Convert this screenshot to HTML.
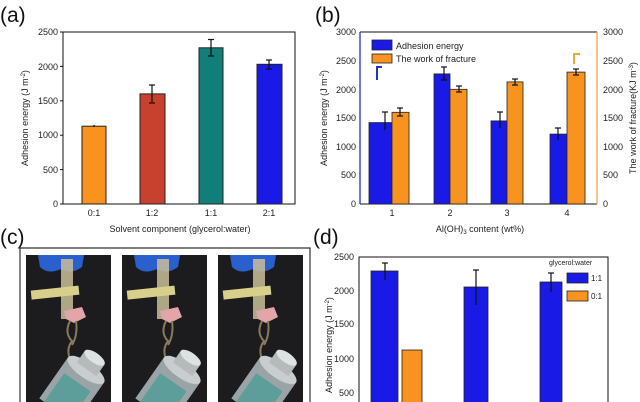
<!DOCTYPE html>
<html><head><meta charset="utf-8"><style>
html,body{margin:0;padding:0;background:#fff;width:640px;height:402px;overflow:hidden}
svg{display:block;font-family:"Liberation Sans",Arial,sans-serif;overflow:hidden}
</style></head><body>
<svg width="640" height="402" viewBox="0 0 640 402" xmlns="http://www.w3.org/2000/svg">
<defs>
<clipPath id="cl"><rect x="0" y="0" width="640" height="402"/></clipPath>
<clipPath id="pc"><rect x="0" y="0" width="85" height="147"/></clipPath>
<g id="photo">
<g clip-path="url(#pc)">
<rect x="0" y="0" width="85" height="147" fill="#1c1c1e"/>
<path d="M12 0 H58 L56 12 Q45 20 35 14 Q22 20 14 12 Z" fill="#2a5fd0"/>
<rect x="35" y="4" width="12" height="60" fill="#c8c09a" opacity="0.85"/>
<rect x="5" y="33" width="48" height="9" fill="#d8cf8a" transform="rotate(-6 30 37)"/>
<path d="M38 56 L56 52 L60 62 L48 68 L40 64 Z" fill="#e2a5a8"/>
<path d="M44 66 Q38 78 46 86 Q40 94 44 104 M50 66 Q52 80 46 90" stroke="#8a7a5a" stroke-width="2" fill="none"/>
<g transform="rotate(35 60 115)">
<rect x="38" y="115" width="44" height="50" fill="#9aa3a5"/>
<rect x="44" y="130" width="32" height="35" fill="#5d9e9a"/>
<ellipse cx="60" cy="115" rx="22" ry="8" fill="#c9cdcf"/>
<rect x="48" y="100" width="24" height="14" fill="#b5babd"/>
<ellipse cx="60" cy="100" rx="12" ry="5" fill="#dfe2e3"/>
</g>
</g>
</g>
</defs>
<g clip-path="url(#cl)">
<!-- (a) -->
<text x="0" y="22" font-size="21" fill="#111">(a)</text>
<g font-size="9" fill="#222">
<rect x="63" y="32" width="232" height="172" fill="none" stroke="#111" stroke-width="1"/>
<g stroke="#111">
<line x1="60" y1="204" x2="63" y2="204"/><line x1="60" y1="169.6" x2="63" y2="169.6"/><line x1="60" y1="135.2" x2="63" y2="135.2"/><line x1="60" y1="100.8" x2="63" y2="100.8"/><line x1="60" y1="66.4" x2="63" y2="66.4"/><line x1="60" y1="32" x2="63" y2="32"/>
</g>
<g text-anchor="end">
<text x="58" y="207">0</text><text x="58" y="173">500</text><text x="58" y="138">1000</text><text x="58" y="104">1500</text><text x="58" y="70">2000</text><text x="58" y="35">2500</text>
</g>
<text transform="translate(28 118) rotate(-90)" text-anchor="middle" font-size="9">Adhesion energy (J m<tspan dy="-3" font-size="6">-2</tspan><tspan dy="3">)</tspan></text>
<rect x="82" y="126.2" width="24" height="77.8" fill="#f7931e" stroke="#222"/>
<rect x="140" y="93.9" width="25" height="110.1" fill="#c8402e" stroke="#222"/>
<rect x="199" y="47.8" width="24" height="156.2" fill="#117f78" stroke="#222"/>
<rect x="257" y="64.3" width="25" height="139.7" fill="#1a1ae6" stroke="#222"/>
<g stroke="#111" stroke-width="1.2">
<line x1="94" y1="125" x2="94" y2="127"/>
<line x1="152" y1="85" x2="152" y2="103"/><line x1="149" y1="85" x2="155" y2="85"/><line x1="149" y1="103" x2="155" y2="103"/>
<line x1="211" y1="39.5" x2="211" y2="56"/><line x1="208" y1="39.5" x2="214" y2="39.5"/><line x1="208" y1="56" x2="214" y2="56"/>
<line x1="269" y1="60" x2="269" y2="69"/><line x1="266" y1="60" x2="272" y2="60"/><line x1="266" y1="69" x2="272" y2="69"/>
</g>
<g text-anchor="middle"><text x="94" y="216">0:1</text><text x="152" y="216">1:2</text><text x="211" y="216">1:1</text><text x="269" y="216">2:1</text></g>
<text x="180" y="232" text-anchor="middle" font-size="9">Solvent component (glycerol:water)</text>
</g>

<!-- (b) -->
<text x="315" y="22" font-size="21" fill="#111">(b)</text>
<g font-size="9" fill="#222">
<line x1="360" y1="32" x2="597" y2="32" stroke="#111"/>
<line x1="360" y1="204" x2="597" y2="204" stroke="#111"/>
<line x1="360" y1="32" x2="360" y2="204" stroke="#2233cc" stroke-width="1.3"/>
<line x1="597" y1="32" x2="597" y2="204" stroke="#e8a93a" stroke-width="1.3"/>
<g text-anchor="end">
<text x="356" y="207">0</text><text x="356" y="178">500</text><text x="356" y="150">1000</text><text x="356" y="121">1500</text><text x="356" y="93">2000</text><text x="356" y="64">2500</text><text x="356" y="35">3000</text>
</g>
<g>
<text x="603" y="207">0</text><text x="603" y="178">500</text><text x="603" y="150">1000</text><text x="603" y="121">1500</text><text x="603" y="93">2000</text><text x="603" y="64">2500</text><text x="603" y="35">3000</text>
</g>
<text transform="translate(327 118) rotate(-90)" text-anchor="middle">Adhesion energy (J m<tspan dy="-3" font-size="6">-2</tspan><tspan dy="3">)</tspan></text>
<text transform="translate(636 118) rotate(-90)" text-anchor="middle">The work of fracture(KJ m<tspan dy="-3" font-size="6">-3</tspan><tspan dy="3">)</tspan></text>
<g stroke="#222" stroke-width="0.8">
<rect x="369" y="122.6" width="23" height="81.4" fill="#1a1ae6"/>
<rect x="392" y="112.3" width="17" height="91.7" fill="#f7931e"/>
<rect x="434" y="73.9" width="16" height="130.1" fill="#1a1ae6"/>
<rect x="450" y="89.3" width="17" height="114.7" fill="#f7931e"/>
<rect x="491" y="120.9" width="16" height="83.1" fill="#1a1ae6"/>
<rect x="507" y="81.9" width="16" height="122.1" fill="#f7931e"/>
<rect x="550" y="134.1" width="17" height="69.9" fill="#1a1ae6"/>
<rect x="567" y="72.1" width="18" height="131.9" fill="#f7931e"/>
</g>
<g stroke="#111" stroke-width="1.2">
<line x1="385" y1="112" x2="385" y2="130"/><line x1="382" y1="112" x2="388" y2="112"/>
<line x1="400" y1="108" x2="400" y2="116"/><line x1="397" y1="108" x2="403" y2="108"/><line x1="397" y1="116" x2="403" y2="116"/>
<line x1="444" y1="67" x2="444" y2="80"/><line x1="441" y1="67" x2="447" y2="67"/><line x1="441" y1="80" x2="447" y2="80"/>
<line x1="459" y1="86" x2="459" y2="92"/><line x1="456" y1="86" x2="462" y2="86"/><line x1="456" y1="92" x2="462" y2="92"/>
<line x1="500" y1="112" x2="500" y2="128"/><line x1="497" y1="112" x2="503" y2="112"/>
<line x1="515" y1="79" x2="515" y2="85"/><line x1="512" y1="79" x2="518" y2="79"/><line x1="512" y1="85" x2="518" y2="85"/>
<line x1="558" y1="128" x2="558" y2="140"/><line x1="555" y1="128" x2="561" y2="128"/>
<line x1="576" y1="69" x2="576" y2="75"/><line x1="573" y1="69" x2="579" y2="69"/><line x1="573" y1="75" x2="579" y2="75"/>
</g>
<path d="M377 80 V67 H382" stroke="#2233cc" stroke-width="2" fill="none"/>
<path d="M574 64 V54 H580" stroke="#e8a93a" stroke-width="2" fill="none"/>
<rect x="372" y="40" width="20" height="10" fill="#1a1ae6" stroke="#222" stroke-width="0.8"/>
<rect x="372" y="54" width="20" height="9" fill="#f7931e" stroke="#222" stroke-width="0.8"/>
<text x="396" y="49">Adhesion energy</text>
<text x="396" y="62">The work of fracture</text>
<g text-anchor="middle"><text x="392" y="216">1</text><text x="450" y="216">2</text><text x="507" y="216">3</text><text x="567" y="216">4</text></g>
<text x="480" y="232" text-anchor="middle">Al(OH)<tspan dy="2" font-size="6">3</tspan><tspan dy="-2"> content (wt%)</tspan></text>
</g>

<!-- (c) -->
<text x="0" y="244" font-size="21" fill="#111">(c)</text>
<path d="M20 402 V248 H310 V402" fill="none" stroke="#333" stroke-width="1.2"/>
<use href="#photo" transform="translate(26 255)"/>
<use href="#photo" transform="translate(122 255)"/>
<use href="#photo" transform="translate(218 255)"/>

<!-- (d) -->
<text x="313" y="244" font-size="21" fill="#111">(d)</text>
<g font-size="9" fill="#222">
<path d="M359 402 V257 H608 V402" fill="none" stroke="#111"/>
<g text-anchor="end">
<text x="354" y="260">2500</text><text x="354" y="294">2000</text><text x="354" y="327">1500</text><text x="354" y="362">1000</text><text x="354" y="396">500</text>
</g>
<text transform="translate(332 345) rotate(-90)" text-anchor="middle">Adhesion energy (J m<tspan dy="-3" font-size="6">-2</tspan><tspan dy="3">)</tspan></text>
<g stroke="#222" stroke-width="0.8">
<rect x="371" y="271" width="27" height="140" fill="#1a1ae6"/>
<rect x="402" y="350" width="20" height="60" fill="#f7931e"/>
<rect x="464" y="287" width="24" height="125" fill="#1a1ae6"/>
<rect x="540" y="282" width="22" height="130" fill="#1a1ae6"/>
</g>
<g stroke="#111" stroke-width="1.2">
<line x1="385" y1="263" x2="385" y2="280"/><line x1="382" y1="263" x2="388" y2="263"/>
<line x1="476" y1="270" x2="476" y2="305"/><line x1="473" y1="270" x2="479" y2="270"/>
<line x1="551" y1="273" x2="551" y2="292"/><line x1="548" y1="273" x2="554" y2="273"/>
</g>
<text x="549" y="265" font-size="7">glycerol:water</text>
<rect x="567" y="273" width="21" height="10" fill="#1a1ae6" stroke="#222" stroke-width="0.8"/>
<rect x="567" y="291" width="21" height="10" fill="#f7931e" stroke="#222" stroke-width="0.8"/>
<text x="591" y="281" font-size="8">1:1</text>
<text x="591" y="299" font-size="8">0:1</text>
</g>
</g>
</svg>
</body></html>
